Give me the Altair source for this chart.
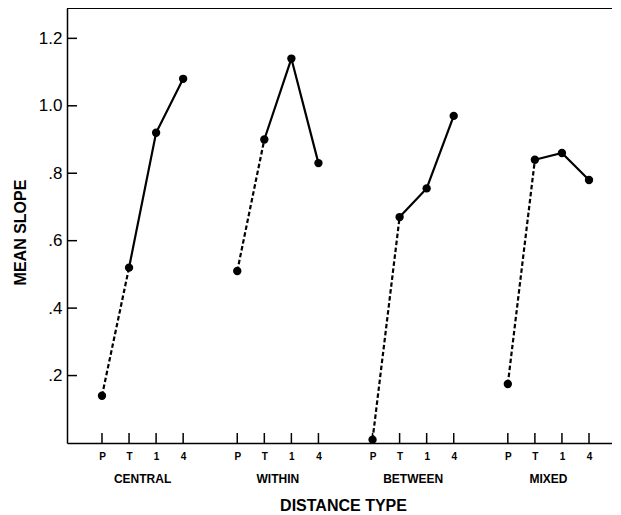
import altair as alt
import pandas as pd

# ---- data ----
groups = ["CENTRAL", "WITHIN", "BETWEEN", "MIXED"]
conditions = ["P", "T", "1", "4"]
central = [0.14, 0.52, 0.92, 1.08]
within = [0.51, 0.90, 1.14, 0.83]
between = [0.01, 0.67, 0.755, 0.97]
mixed = [0.175, 0.84, 0.86, 0.78]
y_ticks = [0.2, 0.4, 0.6, 0.8, 1.0, 1.2]

series = [central, within, between, mixed]
rows = []
for gi, (g, vals) in enumerate(zip(groups, series)):
    for ci, (c, v) in enumerate(zip(conditions, vals)):
        rows.append({"group": g, "cond": c, "slot": gi * 5 + ci, "value": v})
df = pd.DataFrame(rows)
grp_df = pd.DataFrame({"group": groups, "slot": [gi * 5 + 1.5 for gi in range(len(groups))]})
ytick_df = pd.DataFrame({"value": y_ticks})

W, H = 545, 435
FONT = "Liberation Sans"

label_arr = "[" + ",".join("'%s'" % c for c in conditions) + "]"

x_axis = alt.Axis(
    values=list(df["slot"]),
    labelExpr=label_arr + "[datum.value % 5]",
    ticks=False, tickSize=0, grid=False, labelAngle=0,
    domainColor="black", domainWidth=1.5,
    labelFont=FONT, labelFontSize=10, labelFontWeight="bold", labelColor="black",
    labelPadding=8, labelBaseline="top",
    title="DISTANCE TYPE", titleFont=FONT, titleFontSize=16, titleFontWeight="bold",
    titleColor="black", titleX=276, titleY=67, titleBaseline="alphabetic",
)
y_axis = alt.Axis(
    values=y_ticks,
    labelExpr="datum.value >= 1 ? format(datum.value, '.1f') : substring(format(datum.value, '.1f'), 1)",
    ticks=False, tickSize=0, grid=False,
    domainColor="black", domainWidth=1.5,
    labelFont=FONT, labelFontSize=17, labelColor="black", labelPadding=5,
    title="MEAN SLOPE", titleFont=FONT, titleFontSize=16, titleFontWeight="bold",
    titleColor="black", titleX=-42, titleY=224, titleBaseline="alphabetic", titleAlign="center",
)
xscale = alt.Scale(domain=[-1.293, 18.85], nice=False, zero=False)
yscale = alt.Scale(domain=[0, 1.29], nice=False, zero=False)

x_enc = alt.X("slot:Q", scale=xscale, axis=x_axis)
y_enc = alt.Y("value:Q", scale=yscale, axis=y_axis)

base = alt.Chart(df)

dashed = base.transform_filter(
    alt.FieldOneOfPredicate(field="cond", oneOf=conditions[:2])
).mark_line(color="black", strokeWidth=2.2, strokeDash=[4.5, 2.5]).encode(
    x=x_enc, y=y_enc, detail="group:N", order="slot:Q"
)
solid = base.transform_filter(
    alt.FieldOneOfPredicate(field="cond", oneOf=conditions[1:])
).mark_line(color="black", strokeWidth=2.2).encode(
    x=x_enc, y=y_enc, detail="group:N", order="slot:Q"
)
points = base.mark_circle(color="black", size=70, opacity=1).encode(x=x_enc, y=y_enc)

xticks = base.mark_rule(color="black", strokeWidth=1.5).encode(
    x=x_enc, y=alt.value(H), y2=alt.value(H - 10)
)
yticks = alt.Chart(ytick_df).mark_rule(color="black", strokeWidth=1.5).encode(
    y=y_enc, x=alt.value(0), x2=alt.value(10)
)
top_line = alt.Chart(grp_df).mark_rule(color="black", strokeWidth=1.5).encode(
    x=alt.value(0), x2=alt.value(W), y=alt.value(0)
)
group_labels = alt.Chart(grp_df).mark_text(
    font=FONT, fontSize=12, fontWeight="bold", color="black", baseline="middle", align="center"
).encode(x=x_enc, y=alt.value(H + 36), text="group:N")

chart = alt.layer(
    top_line, xticks, yticks, dashed, solid, points, group_labels
).properties(
    width=W, height=H,
    autosize=alt.AutoSizeParams(type="none"),
    padding={"left": 59, "top": 0, "right": 0, "bottom": 72},
    background="white",
).configure_view(stroke=None)

chart.save("out.html", embed_options={"renderer": "svg", "actions": False})
